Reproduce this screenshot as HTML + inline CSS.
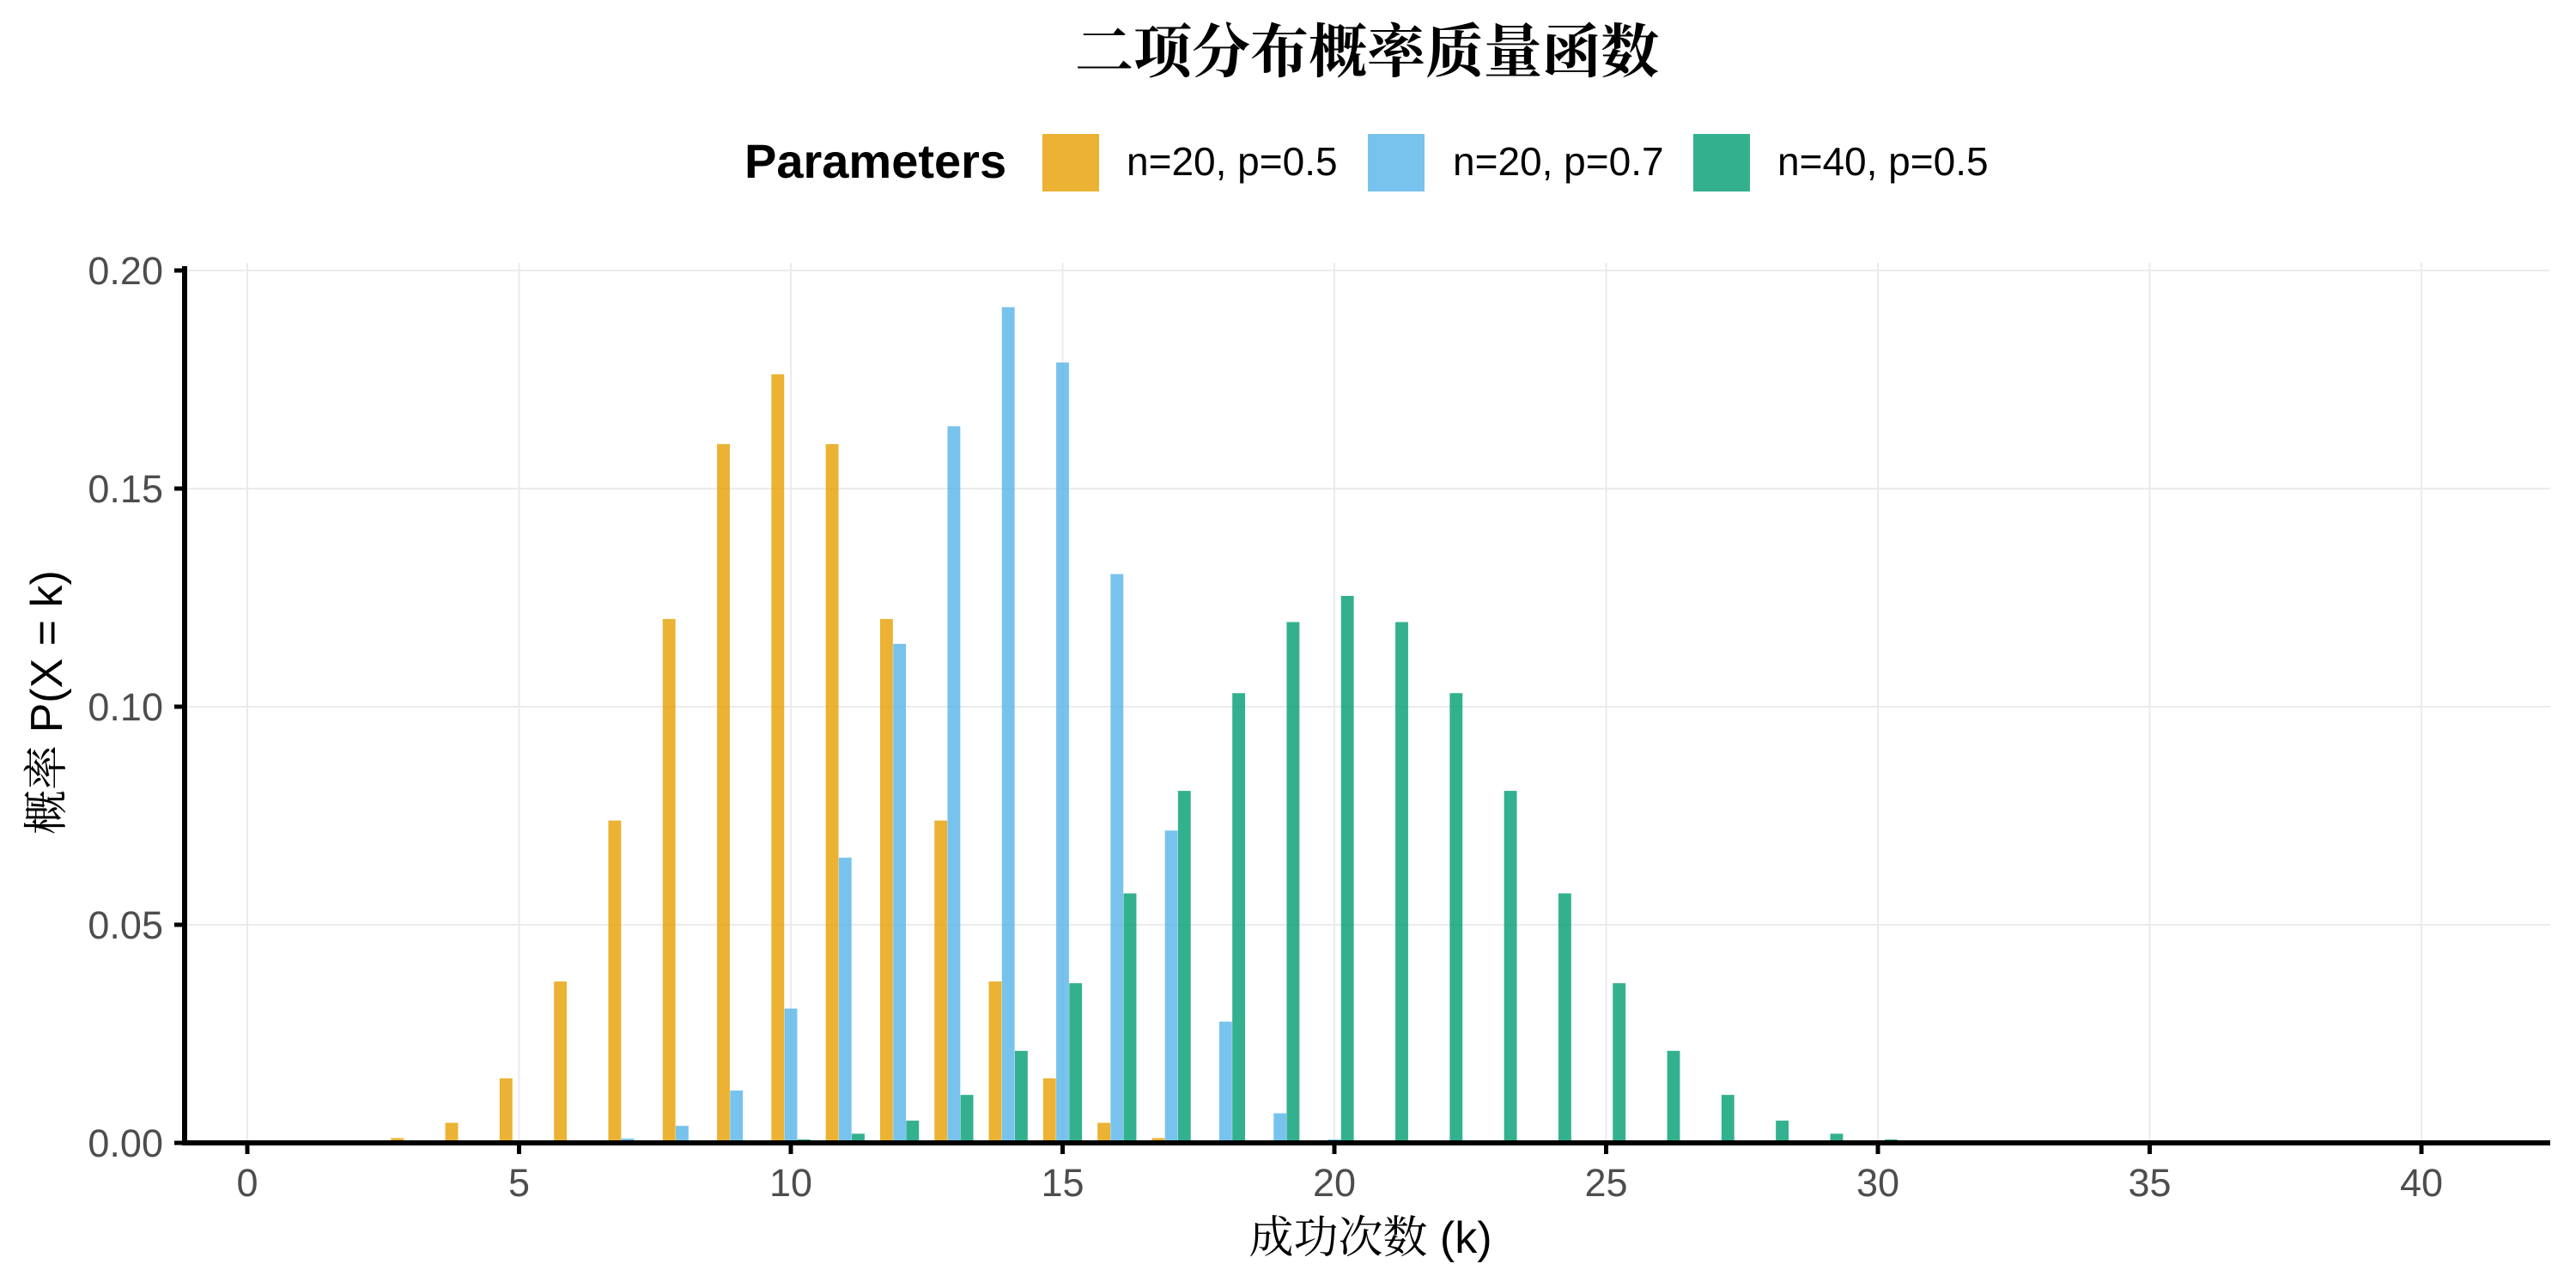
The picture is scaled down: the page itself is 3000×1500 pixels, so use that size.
<!DOCTYPE html>
<html><head><meta charset="utf-8"><style>
html,body{margin:0;padding:0;background:#fff;}
svg{display:block;}
</style></head><body>
<svg id="chart" width="3000" height="1500" xmlns="http://www.w3.org/2000/svg">
<text x="1592" y="84" text-anchor="middle" font-family="'Liberation Serif','Noto Serif CJK SC',serif" font-weight="bold" font-size="68">二项分布概率质量函数</text>
<g font-family="'Liberation Sans',sans-serif">
<text x="867" y="207" font-weight="bold" font-size="56">Parameters</text>
<rect x="1214" y="156" width="66" height="67" fill="#E69F00" fill-opacity="0.8"/>
<text x="1312" y="204" font-size="46">n=20, p=0.5</text>
<rect x="1593" y="156" width="66" height="67" fill="#56B4E9" fill-opacity="0.8"/>
<text x="1692" y="204" font-size="46">n=20, p=0.7</text>
<rect x="1972" y="156" width="66" height="67" fill="#009E73" fill-opacity="0.8"/>
<text x="2070" y="204" font-size="46">n=40, p=0.5</text>
</g>
<g id="grid"></g>
<g id="bars"></g>
<g id="axes"></g>
<text x="1596" y="1459" text-anchor="middle" font-family="'Liberation Sans','Noto Serif CJK SC',serif" font-size="52">成功次数 (k)</text>
<text transform="translate(72,818) rotate(-90)" text-anchor="middle" font-family="'Liberation Sans','Noto Serif CJK SC',serif" font-size="52">概率 P(X = k)</text>
</svg>
<script>
const xTicks = [0,5,10,15,20,25,30,35,40];
const yTicks = [0,0.05,0.10,0.15,0.20];
const yTickLabels = ["0.00","0.05","0.10","0.15","0.20"];
const seriesNames = ["n=20, p=0.5","n=20, p=0.7","n=40, p=0.5"];
const seriesColors = ["#E69F00","#56B4E9","#009E73"];
const kA = [0,1,2,3,4,5,6,7,8,9,10,11,12,13,14,15,16,17,18,19,20];
const valsA = [0,0,0.0002,0.0011,0.0046,0.0148,0.037,0.0739,0.1201,0.1602,0.1762,0.1602,0.1201,0.0739,0.037,0.0148,0.0046,0.0011,0.0002,0,0];
const kB = [6,7,8,9,10,11,12,13,14,15,16,17,18,19,20];
const valsB = [0.0002,0.001,0.0039,0.012,0.0308,0.0654,0.1144,0.1643,0.1916,0.1789,0.1304,0.0716,0.0278,0.0068,0.0008];
const kC = [9,10,11,12,13,14,15,16,17,18,19,20,21,22,23,24,25,26,27,28,29,30,31];
const valsC = [0.0002,0.0008,0.0021,0.0051,0.011,0.0211,0.0366,0.0572,0.0807,0.1031,0.1194,0.1254,0.1194,0.1031,0.0807,0.0572,0.0366,0.0211,0.011,0.0051,0.0021,0.0008,0.0002];

const NS="http://www.w3.org/2000/svg";
const X0=288, UNIT=63.3, Y0=1331, YTOP=315, PL=215, PR=2970, PT=306;
function xs(v){return X0+v*UNIT;}
function ys(v){return Y0-(v/0.2)*(Y0-YTOP);}
function mk(tag,attrs,parent){const e=document.createElementNS(NS,tag);for(const k in attrs)e.setAttribute(k,attrs[k]);parent.appendChild(e);return e;}
const grid=document.getElementById('grid'), bars=document.getElementById('bars'), axes=document.getElementById('axes');
yTicks.forEach((t,i)=>{
  const l=mk('line',{x1:PL,x2:PR,y1:ys(t),y2:ys(t),stroke:'#EBEBEB','stroke-width':2},grid);
  
  
  const tk=mk('line',{x1:PL-12,x2:PL,y1:ys(t),y2:ys(t),stroke:'#000','stroke-width':5},axes);
  
  
  const tx=mk('text',{x:190,y:ys(t)+16,'text-anchor':'end','font-family':"'Liberation Sans',sans-serif",'font-size':45,fill:'#4D4D4D'},axes);
  tx.textContent=yTickLabels[i];
  
  
});
xTicks.forEach(t=>{
  const l=mk('line',{x1:xs(t),x2:xs(t),y1:PT,y2:Y0,stroke:'#EBEBEB','stroke-width':2},grid);
  
  
  const tk=mk('line',{x1:xs(t),x2:xs(t),y1:Y0,y2:Y0+13,stroke:'#000','stroke-width':5},axes);
  
  
  const tx=mk('text',{x:xs(t),y:1393,'text-anchor':'middle','font-family':"'Liberation Sans',sans-serif",'font-size':45,fill:'#4D4D4D'},axes);
  tx.textContent=String(t);
  
  
});
const OFF=0.24, BW=0.235;
function drawSeries(ks,vals,idx,name){
  ks.forEach((k,i)=>{
    const c=k+(idx-1)*OFF;
    const y=ys(vals[i]);
    const r=mk('rect',{x:xs(c-BW/2),y:y,width:BW*UNIT,height:Math.max(0,Y0-y),fill:seriesColors[idx],'fill-opacity':0.8},bars);
    
    
  });
}
drawSeries(kA,valsA,0,'n20-p05');
drawSeries(kB,valsB,1,'n20-p07');
drawSeries(kC,valsC,2,'n40-p05');
const ya=mk('line',{x1:PL,x2:PL,y1:PT+4,y2:Y0+3,stroke:'#000','stroke-width':6},axes);


const xa=mk('line',{x1:PL-3,x2:PR,y1:Y0,y2:Y0,stroke:'#000','stroke-width':6},axes);


</script>
</body></html>
